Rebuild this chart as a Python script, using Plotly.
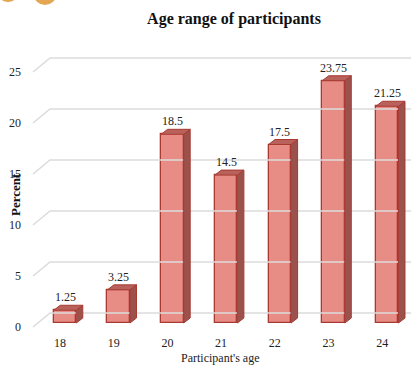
import plotly.graph_objects as go

# ---- data ----
ages = ["18", "19", "20", "21", "22", "23", "24"]
percent = [1.25, 3.25, 18.5, 14.5, 17.5, 23.75, 21.25]
y_ticks = [0, 5, 10, 15, 20, 25]

# ---- geometry ----
W, H = 411, 366
ML, MR, MT, MB = 30, 0, 40, 36
X_RANGE = [-0.652, 6.443]
Y_RANGE = [-0.686, 27.745]
PX_X = (W - ML - MR) / (X_RANGE[1] - X_RANGE[0])
PX_Y = (H - MT - MB) / (Y_RANGE[1] - Y_RANGE[0])

BAR_W = 0.42
DX = 6.5 / PX_X          # bar depth, to the right
DY = 5.0 / PX_Y          # bar depth, upwards
WALL_DY = 10.0 / PX_Y    # back wall sits above the front plane
WALL_X = X_RANGE[0] + 20 / PX_X   # left edge of the back wall
FLOOR_X = X_RANGE[0] + 3 / PX_X   # start of the slanted side wall lines
FLOOR_DY = 4.0 / PX_Y

FRONT = "#e88c86"
EDGE = "#a83a32"
SIDE = "#9c524c"
TOP = "#b8625b"
GRID = "#dcdcdc"
SERIF = "Liberation Serif"

fig = go.Figure()

# back-wall gridlines plus the slanted side-wall segments
gx, gy = [], []
for v in y_ticks:
    gx += [FLOOR_X, WALL_X, X_RANGE[1] + 1, None]
    gy += [v - FLOOR_DY, v + WALL_DY, v + WALL_DY, None]
fig.add_trace(go.Scatter(x=gx, y=gy, mode="lines",
                         line=dict(color=GRID, width=1.6),
                         hoverinfo="skip", showlegend=False, cliponaxis=True))

# side and top faces of each bar
sx, sy, tx, ty = [], [], [], []
for i, v in enumerate(percent):
    xl, xr = i - BAR_W / 2, i + BAR_W / 2
    sx += [xr, xr + DX, xr + DX, xr, xr, None]
    sy += [0, DY, v + DY, v, 0, None]
    tx += [xl, xl + DX, xr + DX, xr, xl, None]
    ty += [v, v + DY, v + DY, v, v, None]
fig.add_trace(go.Scatter(x=sx, y=sy, mode="lines", fill="toself",
                         fillcolor=SIDE, line=dict(color=EDGE, width=1),
                         hoverinfo="skip", showlegend=False))
fig.add_trace(go.Scatter(x=tx, y=ty, mode="lines", fill="toself",
                         fillcolor=TOP, line=dict(color=EDGE, width=1),
                         hoverinfo="skip", showlegend=False))

# front faces
fig.add_trace(go.Bar(x=list(range(len(ages))), y=percent, width=BAR_W,
                     marker=dict(color=FRONT, line=dict(color=EDGE, width=1.3)),
                     showlegend=False))

# value labels
for i, v in enumerate(percent):
    fig.add_annotation(x=i, y=v, text=f"{v:g}", showarrow=False,
                       yanchor="bottom", yshift=4,
                       font=dict(family=SERIF, size=12, color="#222"))

# axis titles
fig.add_annotation(xref="paper", yref="paper",
                   x=(220 - ML) / (W - ML - MR), y=(H - MB - 357.5) / (H - MT - MB),
                   text="Participant's age", showarrow=False,
                   xanchor="center", yanchor="middle",
                   font=dict(family=SERIF, size=12, color="#222"))
fig.add_annotation(xref="paper", yref="paper",
                   x=(15 - ML) / (W - ML - MR), y=(H - MB - 195) / (H - MT - MB),
                   text="<b>Percent</b>", textangle=-90, showarrow=False,
                   xanchor="center", yanchor="middle",
                   font=dict(family=SERIF, size=13, color="#111"))

# decorative orange circles peeking in at the top
def px_box(x0, y0, x1, y1):
    pw, ph = W - ML - MR, H - MT - MB
    return dict(x0=(x0 - ML) / pw, x1=(x1 - ML) / pw,
                y0=(H - MB - y1) / ph, y1=(H - MB - y0) / ph)

for box in [(-3, -20, 19, 2), (34, -15, 56, 5)]:
    fig.add_shape(type="circle", xref="paper", yref="paper",
                  fillcolor="#e3a653", line=dict(width=0), **px_box(*box))

fig.update_layout(
    width=W, height=H,
    margin=dict(l=ML, r=MR, t=MT, b=MB),
    paper_bgcolor="white", plot_bgcolor="white",
    title=dict(text="<b>Age range of participants</b>",
               x=234 / W, xref="container", xanchor="center",
               y=1 - 18 / H, yref="container", yanchor="middle",
               font=dict(family=SERIF, size=16, color="#111")),
    xaxis=dict(range=X_RANGE, tickvals=list(range(len(ages))), ticktext=ages,
               showgrid=False, zeroline=False, showline=False, ticks="",
               ticklabelshift=-5, ticklabelstandoff=4,
               tickfont=dict(family=SERIF, size=12, color="#222")),
    yaxis=dict(range=Y_RANGE, tickvals=y_ticks, showgrid=False, zeroline=False,
               showline=False, ticks="", ticklabelshift=4, ticklabelstandoff=8,
               tickfont=dict(family=SERIF, size=12, color="#222")),
    bargap=0,
)

fig.write_html("out.html")
